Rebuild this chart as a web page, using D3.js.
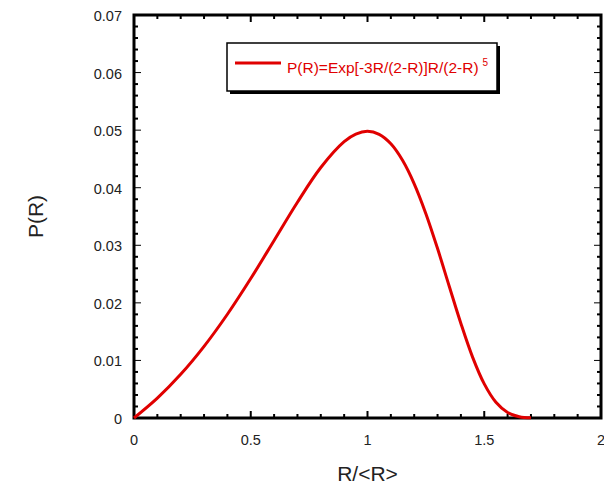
<!DOCTYPE html>
<html>
<head>
<meta charset="utf-8">
<script src="https://cdn.jsdelivr.net/npm/d3@7"></script>
<style>
  body { margin: 0; background: #fff; }
  text { font-family: "Liberation Sans", Arial, sans-serif; }
</style>
</head>
<body>
<div id="chart"></div>
<script>
// values
const rValues = [0, 0.1, 0.2, 0.3, 0.4, 0.5, 0.6, 0.7, 0.8, 0.9, 0.95, 1.0, 1.05, 1.1, 1.15, 1.2, 1.25, 1.3, 1.35, 1.4, 1.45, 1.5, 1.55, 1.6, 1.65, 1.7]
const pValues = [0, 0.00345, 0.00758, 0.01244, 0.01802, 0.02422, 0.03084, 0.03748, 0.04351, 0.04800, 0.04931, 0.04979, 0.04926, 0.04762, 0.04476, 0.04068, 0.03549, 0.02943, 0.02289, 0.01642, 0.01058, 0.00592, 0.00273, 0.00096, 0.00023, 0.00003]
const xTicks = [0, 0.5, 1, 1.5, 2]
const yTicks = [0, 0.01, 0.02, 0.03, 0.04, 0.05, 0.06, 0.07]
const legendText = "P(R)=Exp[-3R/(2-R)]R/(2-R)"

const width = 604, height = 485
const margin = {left: 134, right: 3, top: 15, bottom: 67}

const svg = d3.select("#chart").append("svg")
  .attr("width", width)
  .attr("height", height)

const x = d3.scaleLinear().domain([0, 2]).range([margin.left, width - margin.right])
const y = d3.scaleLinear().domain([0, 0.07]).range([height - margin.bottom, margin.top])

const x0 = x(0), x1 = x(2), y0 = y(0), y1 = y(0.07)

// minor ticks
const xMinor = d3.range(0, 2.0001, 0.1)
const yMinor = d3.range(0, 0.07001, 0.002)

const ticks = svg.append("g").attr("stroke", "#000")
xMinor.forEach(v => {
  const major = xTicks.some(t => Math.abs(t - v) < 1e-6)
  const len = major ? 7 : 4
  ticks.append("line").attr("x1", x(v)).attr("x2", x(v)).attr("y1", y0).attr("y2", y0 - len).attr("stroke-width", 2)
  ticks.append("line").attr("x1", x(v)).attr("x2", x(v)).attr("y1", y1).attr("y2", y1 + len).attr("stroke-width", 2)
})
yMinor.forEach(v => {
  const major = yTicks.some(t => Math.abs(t - v) < 1e-6)
  const len = major ? 7 : 4
  ticks.append("line").attr("y1", y(v)).attr("y2", y(v)).attr("x1", x0).attr("x2", x0 + len).attr("stroke-width", major ? 1 : 2)
  ticks.append("line").attr("y1", y(v)).attr("y2", y(v)).attr("x1", x1).attr("x2", x1 - len).attr("stroke-width", major ? 1 : 2)
})

// frame
svg.append("rect")
  .attr("x", x0).attr("y", y1)
  .attr("width", x1 - x0).attr("height", y0 - y1)
  .attr("fill", "none").attr("stroke", "#000").attr("stroke-width", 3)

// tick labels
svg.append("g").selectAll("text")
  .data(xTicks)
  .join("text")
  .attr("x", d => x(d))
  .attr("y", y0 + 27)
  .attr("text-anchor", "middle")
  .attr("font-size", 14.5)
  .attr("fill", "#222")
  .text(d => d)

svg.append("g").selectAll("text")
  .data(yTicks)
  .join("text")
  .attr("x", x0 - 12)
  .attr("y", d => y(d) + 6)
  .attr("text-anchor", "end")
  .attr("font-size", 14.5)
  .attr("fill", "#222")
  .text(d => d === 0 ? "0" : d3.format(".2f")(d))

// axis titles
svg.append("text")
  .attr("x", (x0 + x1) / 2)
  .attr("y", 481)
  .attr("text-anchor", "middle")
  .attr("font-size", 21)
  .attr("fill", "#222")
  .text("R/<R>")

svg.append("text")
  .attr("transform", `translate(43,${(y0 + y1) / 2}) rotate(-90)`)
  .attr("text-anchor", "middle")
  .attr("font-size", 21)
  .attr("fill", "#222")
  .text("P(R)")

// curve
const line = d3.line()
  .x((d, i) => x(rValues[i]))
  .y(d => y(d))
  .curve(d3.curveCatmullRom)

svg.append("path")
  .datum(pValues)
  .attr("d", line)
  .attr("fill", "none")
  .attr("stroke", "#e00000")
  .attr("stroke-width", 3)

// legend with shadow
const lg = svg.append("g")
lg.append("rect").attr("x", 230).attr("y", 46).attr("width", 270).attr("height", 48).attr("fill", "#000")
lg.append("rect").attr("x", 227).attr("y", 43).attr("width", 270).attr("height", 48)
  .attr("fill", "#fff").attr("stroke", "#000").attr("stroke-width", 1.5)
lg.append("line").attr("x1", 235).attr("x2", 281).attr("y1", 63).attr("y2", 63)
  .attr("stroke", "#e00000").attr("stroke-width", 3)
const lt = lg.append("text").attr("x", 287).attr("y", 73).attr("font-size", 15.5).attr("fill", "#e00000")
lt.append("tspan").text(legendText)
lt.append("tspan").attr("dx", 4).attr("dy", -7).attr("font-size", 10).text("5")
</script>
</body>
</html>
